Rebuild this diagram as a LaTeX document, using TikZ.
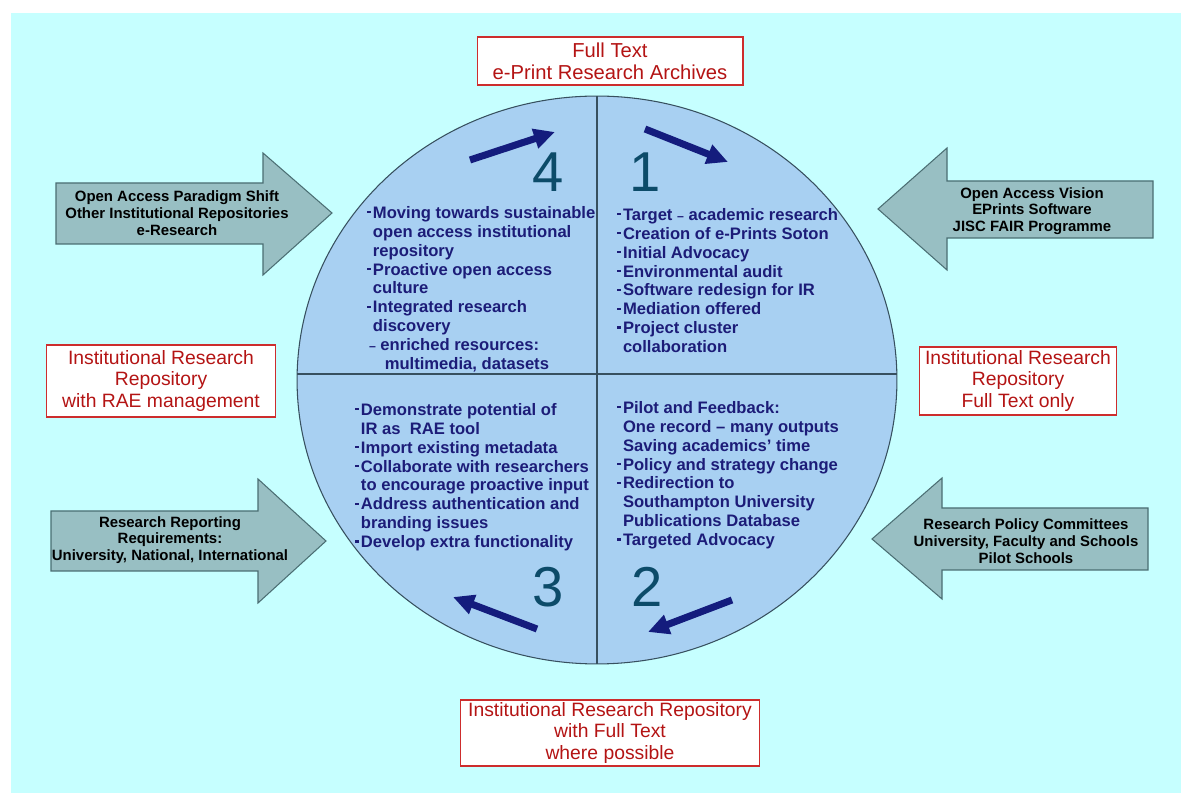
\documentclass[tikz,border=0pt]{standalone}
\usepackage{fontspec}
\setmainfont{Liberation Sans}
\usetikzlibrary{arrows.meta}

\definecolor{bgcyan}{RGB}{198,255,255}
\definecolor{discblue}{RGB}{168,208,242}
\definecolor{discline}{RGB}{55,80,95}
\definecolor{pushfill}{RGB}{152,191,195}
\definecolor{pushline}{RGB}{75,110,115}
\definecolor{boxred}{RGB}{205,45,45}
\definecolor{txtred}{RGB}{180,20,20}
\definecolor{itemnavy}{RGB}{28,28,120}
\definecolor{cyclenavy}{RGB}{20,28,125}
\definecolor{numteal}{RGB}{12,75,105}

\newcommand{\bul}{\makebox[0.34em][l]{\rule[0.3em]{0.2em}{0.14em}}}
\newcommand{\ind}{\hspace*{0.34em}}
\newcommand{\sdash}{{\fontsize{7}{7}\selectfont--}}

\begin{document}
\begin{tikzpicture}[
        x=0.02cm, y=-0.02cm,
        % Styles
        stage_box/.style={draw=boxred, fill=white, line width=0.6pt, align=center, text=txtred, font=\fontsize{11}{12.3}\selectfont, inner sep=0pt},
        push_arrow/.style={draw=pushline, fill=pushfill, line width=0.6pt},
        push_text/.style={align=center, inner sep=0pt, font=\fontsize{8.5}{9.5}\selectfont\bfseries},
        item_list/.style={align=left, anchor=north west, inner sep=0pt, text=itemnavy, font=\fontsize{9.45}{10.75}\selectfont\bfseries},
        phase_num/.style={text=numteal, inner sep=0pt, font=\fontsize{32}{32}\selectfont},
        cycle_arrow/.style={draw=cyclenavy, line width=4pt, -{Triangle[length=12pt, width=11pt]}}
    ]

    % Page and background
    \useasboundingbox (0,0) rectangle (1181,793);
    \fill[bgcyan] (11,13) rectangle (1181,793);

    % Central disc with quadrants
    \draw[fill=discblue, draw=discline, line width=0.6pt] (597,380) ellipse [x radius=6cm, y radius=5.68cm];
    \draw[discline, line width=0.6pt] (597,96) -- (597,664);
    \draw[discline, line width=0.6pt] (297,374) -- (897,374);

    % Outcome boxes
    \node[stage_box, minimum width=5.32cm, minimum height=0.96cm, font=\fontsize{11.5}{12.3}\selectfont] (full_text) at (610,61) {Full Text\\e-Print Research Archives};
    \node[stage_box, minimum width=4.58cm, minimum height=1.44cm] (rae_repo) at (161,381) {Institutional Research\\Repository\\with RAE management};
    \node[stage_box, minimum width=3.94cm, minimum height=1.36cm] (ft_only) at (1018,381) {Institutional Research\\Repository\\Full Text only};
    \node[stage_box, minimum width=5.98cm, minimum height=1.32cm] (ft_possible) at (610,733) {Institutional Research Repository\\with Full Text\\where possible};

    % Driver arrows
    \draw[push_arrow] (56,183) -- (263,183) -- (263,153) -- (332,213) -- (263,275) -- (263,244) -- (56,244) -- cycle;
    \node[push_text] (drv_shift) at (177,213) {Open Access Paradigm Shift\\Other Institutional Repositories\\e-Research};

    \draw[push_arrow] (1153,181) -- (947,181) -- (947,148) -- (878,209) -- (947,270) -- (947,238) -- (1153,238) -- cycle;
    \node[push_text] (drv_vision) at (1032,211) {Open Access Vision\\EPrints Software\\JISC FAIR Programme};

    \draw[push_arrow] (51,511) -- (258,511) -- (258,479) -- (326,541) -- (258,603) -- (258,571) -- (51,571) -- cycle;
    \node[push_text] (drv_report) at (170,540) {Research Reporting\\Requirements:\\University, National, International};

    \draw[push_arrow] (1148,508) -- (942,508) -- (942,478) -- (872,539) -- (942,599) -- (942,570) -- (1148,570) -- cycle;
    \node[push_text] (drv_policy) at (1026,541) {Research Policy Committees\\University, Faculty and Schools\\Pilot Schools};

    % Phase numbers
    \node[phase_num] (num4) at (548,172) {4};
    \node[phase_num] (num1) at (645,172) {1};
    \node[phase_num] (num3) at (548,587) {3};
    \node[phase_num] (num2) at (647,587) {2};

    % Cycle arrows
    \coordinate (c4_from) at (470,160);
    \coordinate (c4_to) at (555,132);
    \coordinate (c1_from) at (645,129);
    \coordinate (c1_to) at (728,162);
    \coordinate (c2_from) at (732,600);
    \coordinate (c2_to) at (648,632);
    \coordinate (c3_from) at (537,629);
    \coordinate (c3_to) at (453,597);
    \draw[cycle_arrow] (c4_from) -- (c4_to);
    \draw[cycle_arrow] (c1_from) -- (c1_to);
    \draw[cycle_arrow] (c2_from) -- (c2_to);
    \draw[cycle_arrow] (c3_from) -- (c3_to);

    % Quadrant contents
    \node[item_list] (phase4) at (367,206) {\bul Moving towards sustainable\\ \ind open access institutional\\ \ind repository\\ \bul Proactive open access\\ \ind culture\\ \bul Integrated research\\ \ind discovery\\ \hspace*{0.1em}\sdash\ enriched resources:\\ \hspace*{1.05em}multimedia, datasets};
    \node[item_list] (phase1) at (617,208) {\bul Target \sdash\ academic research\\ \bul Creation of e-Prints Soton\\ \bul Initial Advocacy\\ \bul Environmental audit\\ \bul Software redesign for IR\\ \bul Mediation offered\\ \bul Project cluster\\ \ind collaboration};
    \node[item_list] (phase3) at (355,403) {\bul Demonstrate potential of\\ \ind IR as\ \ RAE tool\\ \bul Import existing metadata\\ \bul Collaborate with researchers\\ \ind to encourage proactive input\\ \bul Address authentication and\\ \ind branding issues\\ \bul Develop extra functionality};
    \node[item_list] (phase2) at (617,401) {\bul Pilot and Feedback:\\ \ind One record -- many outputs\\ \ind Saving academics' time\\ \bul Policy and strategy change\\ \bul Redirection to\\ \ind Southampton University\\ \ind Publications Database\\ \bul Targeted Advocacy};

\end{tikzpicture}
\end{document}
